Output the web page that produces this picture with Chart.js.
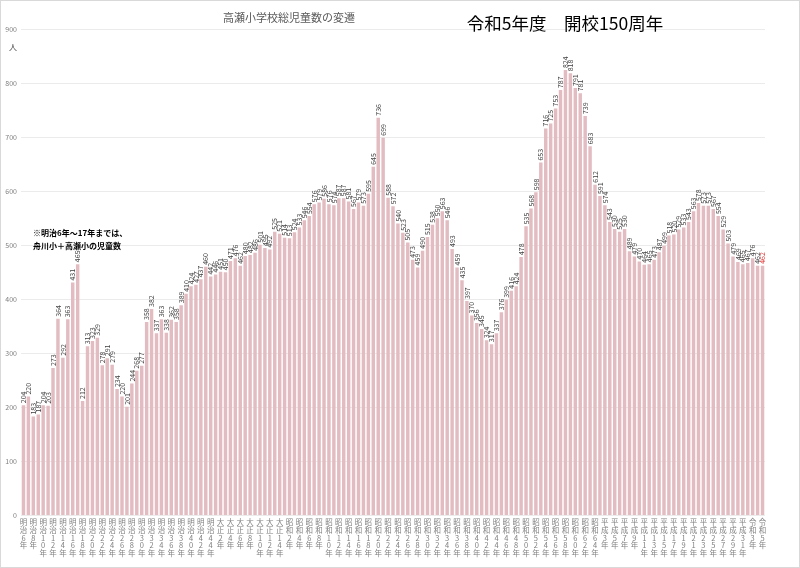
<!DOCTYPE html>
<html>
<head>
<meta charset="utf-8">
<script src="https://cdn.jsdelivr.net/npm/chart.js@4"></script>
<style>
    body { margin: 0; background: #fff; }
    #wrap { position: relative; width: 798px; height: 566px; border: 1px solid #d9d9d9; }
</style>
</head>
<body>
<div id="wrap"><canvas id="chart"></canvas></div>
<script>
// era name, first year shown, last year
const eras = [ [ '明治', 6, 45 ], [ '大正', 2, 15 ], [ '昭和', 2, 64 ], [ '平成', 2, 31 ], [ '令和', 2, 5 ] ];

// number of pupils per year
const meiji = [ 204, 220, 183, 187, 204, 203, 273, 364, 292, 363, 431, 465, 212, 313, 323, 329, 278, 291, 279, 234,
    220, 201, 244, 268, 277, 358, 382, 337, 363, 338, 362, 358, 389, 410, 424, 427, 437, 460, 442, 446 ];
const taisho = [ 451, 450, 471, 476, 462, 480, 482, 486, 501, 495, 492, 525, 521, 514 ];
const showa = [ 513, 524, 533, 546, 554, 576, 579, 586, 576, 574, 587, 587, 581, 567, 579, 573, 595, 645, 736, 699,
    588, 572, 540, 523, 505, 473, 459, 490, 515, 538, 550, 563, 546, 493, 459, 435, 397, 370, 356, 345,
    324, 317, 337, 376, 399, 416, 424, 478, 535, 568, 598, 653, 716, 725, 753, 787, 824, 818, 791, 781,
    739, 683, 612 ];
const heisei = [ 591, 574, 543, 530, 525, 530, 489, 479, 470, 464, 465, 473, 487, 499, 518, 520, 529, 533, 543, 563,
    578, 573, 573, 567, 554, 529, 503, 479, 469, 465 ];
const reiwa = [ 467, 476, 462, 462 ];

const yTicks = [ 0, 100, 200, 300, 400, 500, 600, 700, 800, 900 ];

const categories = [];
eras.forEach( function ( e )
{
    for ( let y = e[ 1 ]; y <= e[ 2 ]; y++ ) categories.push( e[ 0 ] + y + '年' );
} );
const students = meiji.concat( taisho, showa, heisei, reiwa );

const FONT = '"Noto Sans CJK JP", "Noto Sans", sans-serif';
Chart.defaults.font.family = FONT;

// numbers standing on top of every bar
const valueLabels = {
    id: 'valueLabels',
    afterDatasetsDraw( chart )
    {
        const ctx = chart.ctx;
        const bars = chart.getDatasetMeta( 0 ).data;
        ctx.save();
        ctx.font = '7px ' + FONT;
        ctx.textAlign = 'left';
        ctx.textBaseline = 'middle';
        bars.forEach( function ( bar, i )
        {
            ctx.save();
            ctx.translate( bar.x, bar.y - 2 );
            ctx.rotate( -Math.PI / 2 );
            ctx.fillStyle = i === bars.length - 1 ? '#e0302e' : '#404040';
            ctx.fillText( students[ i ], 0, 0 );
            ctx.restore();
        } );
        ctx.restore();
    }
};

const overlayText = {
    id: 'overlayText',
    afterDraw( chart )
    {
        const ctx = chart.ctx;
        ctx.save();
        ctx.textBaseline = 'middle';
        ctx.textAlign = 'center';
        ctx.fillStyle = '#595959';
        ctx.font = '11px ' + FONT;
        ctx.fillText( '高瀬小学校総児童数の変遷', 288, 17 );

        ctx.fillStyle = '#000';
        ctx.font = '17.5px ' + FONT;
        ctx.fillText( '令和5年度　開校150周年', 564, 22 );

        ctx.textAlign = 'left';
        ctx.font = 'bold 8px ' + FONT;
        ctx.fillText( '※明治6年～17年までは、', 32, 232 );
        ctx.fillText( '舟川小＋高瀬小の児童数', 32, 245 );

        ctx.fillStyle = '#404040';
        ctx.font = '8px ' + FONT;
        ctx.fillText( '人', 8, 46 );
        ctx.restore();
    }
};

new Chart( document.getElementById( 'chart' ), {
    type: 'bar',
    data: {
        labels: categories,
        datasets: [ {
            data: students,
            backgroundColor: '#e2bcc1',
            borderWidth: 0,
            barPercentage: 0.7,
            categoryPercentage: 1
        } ]
    },
    options: {
        responsive: true,
        maintainAspectRatio: false,
        animation: false,
        layout: { padding: { top: 28, right: 34, bottom: 7, left: 4 } },
        plugins: {
            legend: { display: false },
            title: { display: false },
            tooltip: { enabled: false }
        },
        scales: {
            x: {
                grid: { display: false, drawTicks: false },
                border: { display: false },
                ticks: {
                    autoSkip: false,
                    maxRotation: 0,
                    minRotation: 0,
                    padding: 3,
                    color: '#7f7f7f',
                    font: { size: 7.5, lineHeight: '7.7px' },
                    callback: function ( v, i )
                    {
                        return i % 2 === 0 ? Array.from( categories[ i ] ) : '';
                    }
                }
            },
            y: {
                min: 0,
                max: 900,
                afterBuildTicks: function ( s ) { s.ticks = yTicks.map( v => ( { value: v } ) ); },
                afterFit: function ( s ) { s.width = 16; },
                grid: { color: '#ebebeb', drawTicks: false },
                border: { display: false },
                ticks: { padding: 4, color: '#7f7f7f', font: { size: 7 } }
            }
        }
    },
    plugins: [ valueLabels, overlayText ]
} );
</script>
</body>
</html>
